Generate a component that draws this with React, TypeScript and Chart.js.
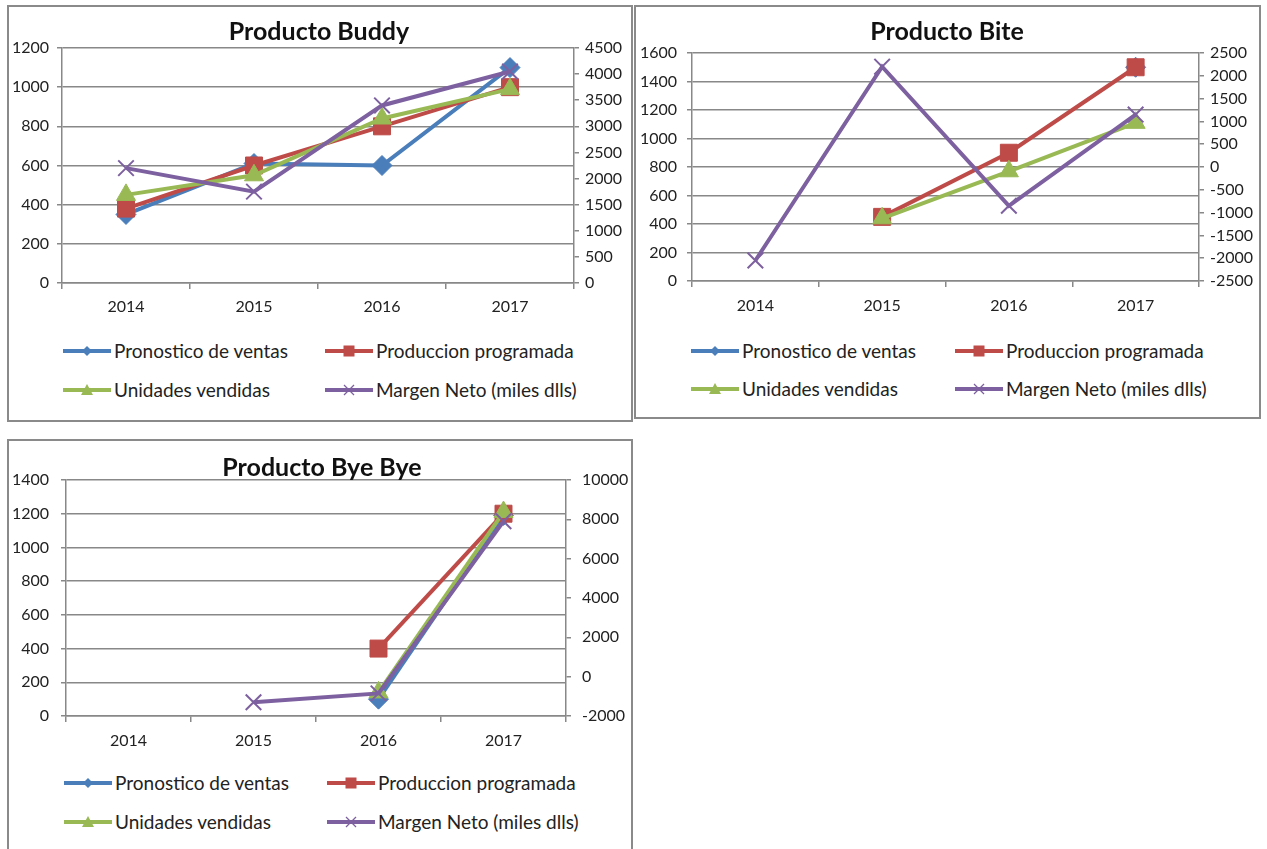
import React, { useEffect, useRef } from 'react';
import { Chart, registerables } from 'chart.js';
Chart.register(...registerables);

// ---------- data ----------
const years = ['2014', '2015', '2016', '2017'];
const seriesLabels = ['Pronostico de ventas', 'Produccion programada', 'Unidades vendidas', 'Margen Neto (miles dlls)'];

const buddyPronostico = [350, 610, 600, 1100];
const buddyProduccion = [380, 600, 800, 1000];
const buddyUnidades = [450, 550, 840, 990];
const buddyMargen = [2200, 1750, 3400, 4050];
const buddyLeftRange = [0, 1200, 200];
const buddyRightRange = [0, 4500, 500];

const bitePronostico = [null, null, null, 1500];
const biteProduccion = [null, 450, 900, 1500];
const biteUnidades = [null, 440, 770, 1110];
const biteMargen = [-2050, 2200, -850, 1150];
const biteLeftRange = [0, 1600, 200];
const biteRightRange = [-2500, 2500, 500];

const byePronostico = [null, null, 100, 1190];
const byeProduccion = [null, null, 400, 1200];
const byeUnidades = [null, null, 140, 1210];
const byeMargen = [null, -1300, -850, 7900];
const byeLeftRange = [0, 1400, 200];
const byeRightRange = [-2000, 10000, 2000];

// ---------- styles ----------
const seriesColors = ['#4A7EBB', '#BE4B48', '#98B954', '#7D60A0'];
const seriesPointStyles = ['rectRot', 'rect', 'triangle', 'crossRot'];
const seriesPointRadius = [10, 12, 11, 11];
const FONT = 'Lato, "Open Sans", sans-serif';
const TEXT = '#222';
const GRID = '#888888';

type Panel = {
  title: string;
  series: (number | null)[][];
  left: number[];
  right: number[];
  box: { x: number; y: number; w: number; h: number };
  titleC: { x: number; y: number };
  canvasH: number;
  plot: { l: number; r: number; t: number; b: number };
  leftPad: number;
  rightPad: number;
  xPad: number;
  legendCols: number[];
  legendRows: number[];
};

const panels: Panel[] = [
  {
    title: 'Producto Buddy',
    series: [buddyPronostico, buddyProduccion, buddyUnidades, buddyMargen],
    left: buddyLeftRange,
    right: buddyRightRange,
    box: { x: 7, y: 5, w: 626, h: 417 },
    titleC: { x: 319, y: 30 },
    canvasH: 320,
    plot: { l: 62, r: 574, t: 48, b: 283 },
    leftPad: 8,
    rightPad: 6,
    xPad: 8,
    legendCols: [63, 325],
    legendRows: [351, 390],
  },
  {
    title: 'Producto Bite',
    series: [bitePronostico, biteProduccion, biteUnidades, biteMargen],
    left: biteLeftRange,
    right: biteRightRange,
    box: { x: 634, y: 5, w: 627, h: 414 },
    titleC: { x: 947, y: 30 },
    canvasH: 320,
    plot: { l: 692, r: 1199, t: 53, b: 281 },
    leftPad: 10,
    rightPad: 6,
    xPad: 9,
    legendCols: [691, 955],
    legendRows: [351, 389],
  },
  {
    title: 'Producto Bye Bye',
    series: [byePronostico, byeProduccion, byeUnidades, byeMargen],
    left: byeLeftRange,
    right: byeRightRange,
    box: { x: 7, y: 439, w: 626, h: 420 },
    titleC: { x: 322, y: 466 },
    canvasH: 320,
    plot: { l: 66, r: 566, t: 480, b: 716 },
    leftPad: 12,
    rightPad: 11,
    xPad: 9,
    legendCols: [64, 327],
    legendRows: [783, 822],
  },
];

function ChartPanel({ p }: { p: Panel }) {
  const ref = useRef<HTMLCanvasElement | null>(null);
  const cx = p.box.x;
  const cy = p.box.y;
  const cw = p.box.w;
  const ch = p.canvasH;
  useEffect(() => {
    const datasets = p.series.map((data, i) => ({
      label: seriesLabels[i],
      data,
      yAxisID: i === 3 ? 'y1' : 'y',
      borderColor: seriesColors[i],
      backgroundColor: seriesColors[i],
      pointBackgroundColor: seriesColors[i],
      pointBorderColor: seriesColors[i],
      borderWidth: 4,
      pointStyle: seriesPointStyles[i],
      pointRadius: seriesPointRadius[i],
      pointBorderWidth: i === 3 ? 2 : 1,
      order: 4 - i,
      spanGaps: false,
      tension: 0,
    }));
    const tickFont = { family: FONT, size: 16 };
    const chart = new Chart(ref.current as HTMLCanvasElement, {
      type: 'line',
      data: { labels: years, datasets: datasets as any },
      options: {
        animation: false,
        responsive: false,
        maintainAspectRatio: false,
        layout: { padding: { top: p.plot.t - cy, left: 0, right: 0, bottom: 0 } },
        plugins: { legend: { display: false }, title: { display: false }, tooltip: { enabled: false } },
        scales: {
          x: {
            type: 'category',
            offset: true,
            grid: { offset: true, drawOnChartArea: false, drawTicks: true, tickLength: 6, color: GRID, lineWidth: 1.5 },
            border: { color: GRID, width: 1.5 },
            ticks: { font: tickFont, color: TEXT, padding: p.xPad, maxRotation: 0 },
            afterFit: (s: any) => { s.height = cy + ch - p.plot.b; },
          },
          y: {
            position: 'left',
            min: p.left[0],
            max: p.left[1],
            ticks: { stepSize: p.left[2], font: tickFont, color: TEXT, padding: p.leftPad, callback: (v: any) => String(v) },
            grid: { color: GRID, lineWidth: 1.5, tickLength: 5 },
            border: { color: GRID, width: 1.5 },
            afterFit: (s: any) => { s.width = p.plot.l - cx; },
          },
          y1: {
            position: 'right',
            min: p.right[0],
            max: p.right[1],
            ticks: { stepSize: p.right[2], font: tickFont, color: TEXT, padding: p.rightPad, callback: (v: any) => String(v) },
            grid: { drawOnChartArea: false, color: GRID, lineWidth: 1.5, tickLength: 5 },
            border: { color: GRID, width: 1.5 },
            afterFit: (s: any) => { s.width = cx + cw - p.plot.r; },
          },
        },
      } as any,
    });
    return () => chart.destroy();
  }, []);

  return (
    <>
      <div
        style={{
          position: 'absolute',
          left: p.box.x,
          top: p.box.y,
          width: p.box.w,
          height: p.box.h,
          border: '2px solid #8a8a8a',
          boxSizing: 'border-box',
          background: '#fff',
        }}
      />
      <canvas
        ref={ref}
        width={cw}
        height={ch}
        style={{ position: 'absolute', left: cx, top: cy, width: cw, height: ch }}
      />
      <div
        style={{
          position: 'absolute',
          left: p.titleC.x - 200,
          top: p.titleC.y - 16,
          width: 400,
          height: 32,
          lineHeight: '32px',
          textAlign: 'center',
          fontFamily: FONT,
          fontWeight: 700,
          fontSize: 25,
          color: '#111',
        }}
      >
        {p.title}
      </div>
      {seriesLabels.map((lab, i) => (
        <LegendItem key={i} i={i} x={p.legendCols[i % 2]} y={p.legendRows[Math.floor(i / 2)]} label={lab} />
      ))}
    </>
  );
}

function Marker({ i }: { i: number }) {
  const c = seriesColors[i];
  if (i === 0) return <polygon points="24,5 29,10 24,15 19,10" fill={c} />;
  if (i === 1) return <rect x={18.5} y={4.5} width={11} height={11} fill={c} />;
  if (i === 2) return <polygon points="24,4 30,15 18,15" fill={c} />;
  return (
    <g stroke={c} strokeWidth={1.3}>
      <line x1={19} y1={5} x2={29} y2={15} />
      <line x1={29} y1={5} x2={19} y2={15} />
    </g>
  );
}

function LegendItem({ i, x, y, label }: { i: number; x: number; y: number; label: string }) {
  return (
    <div
      style={{
        position: 'absolute',
        left: x,
        top: y - 14,
        height: 28,
        display: 'flex',
        alignItems: 'center',
        whiteSpace: 'nowrap',
      }}
    >
      <svg width={48} height={20} style={{ display: 'block' }}>
        <line x1={0} y1={10} x2={48} y2={10} stroke={seriesColors[i]} strokeWidth={4} />
        <Marker i={i} />
      </svg>
      <span style={{ marginLeft: 3, fontFamily: FONT, fontSize: 19, color: TEXT, lineHeight: '28px' }}>{label}</span>
    </div>
  );
}

export default function App() {
  return (
    <div style={{ position: 'absolute', left: 0, top: 0, width: 1267, height: 849, background: '#fff', overflow: 'hidden' }}>
      {panels.map((p, k) => (
        <ChartPanel key={k} p={p} />
      ))}
    </div>
  );
}
